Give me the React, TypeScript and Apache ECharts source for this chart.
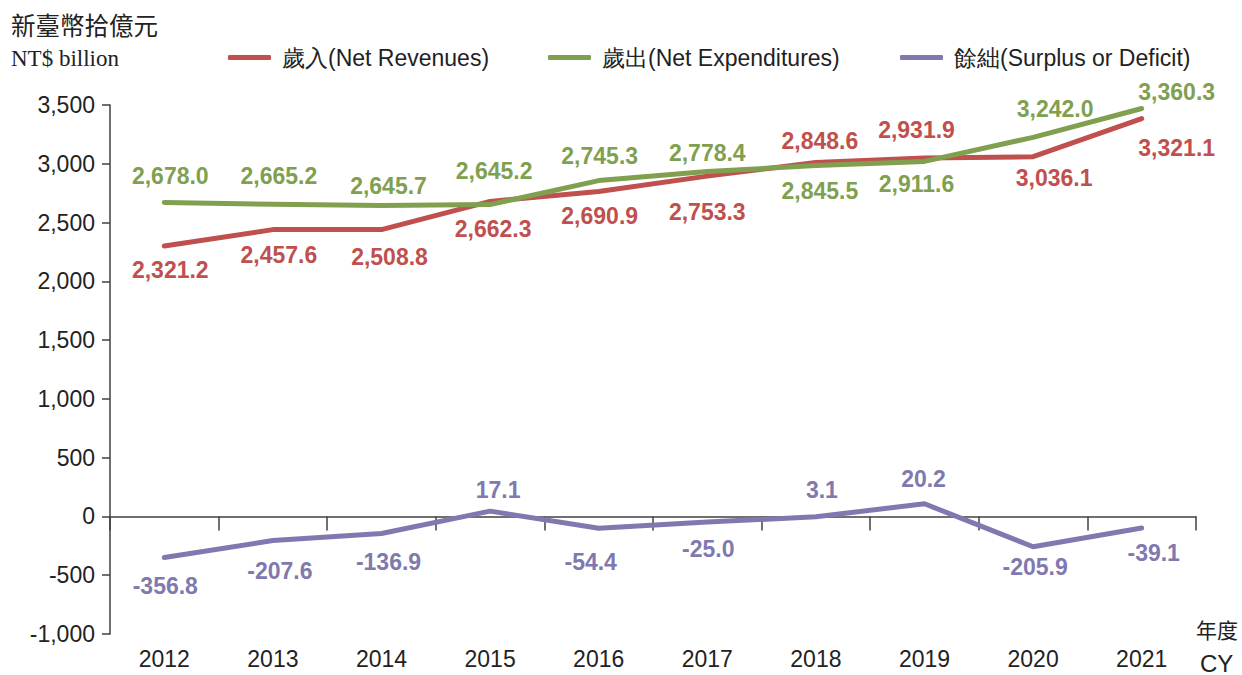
import React, { useEffect, useRef } from "react";
import * as echarts from "echarts";

const years = ["2012", "2013", "2014", "2015", "2016", "2017", "2018", "2019", "2020", "2021"];
const yTicks = { min: -1000, max: 3500, interval: 500 };

// plotted line positions (as drawn in the picture)
const revenueLine = [2300, 2440, 2440, 2680, 2765, 2895, 3010, 3050, 3060, 3385];
const expenditureLine = [2670, 2655, 2645, 2653, 2857, 2934, 2985, 3020, 3225, 3470];
const balanceLine = [-350, -205, -145, 45, -100, -48, -3, 108, -258, -99];

// printed values
const revenueValues = [2321.2, 2457.6, 2508.8, 2662.3, 2690.9, 2753.3, 2848.6, 2931.9, 3036.1, 3321.1];
const expenditureValues = [2678.0, 2665.2, 2645.7, 2645.2, 2745.3, 2778.4, 2845.5, 2911.6, 3242.0, 3360.3];
const balanceValues = [-356.8, -207.6, -136.9, 17.1, -54.4, -25.0, 3.1, 20.2, -205.9, -39.1];

const seriesNames = ["歲入(Net Revenues)", "歲出(Net Expenditures)", "餘絀(Surplus or Deficit)"];
const colors = ["#C0504D", "#80A050", "#8079B0"];

// label placement: [position, distance, dx]
const revPlace: [string, number, number][] = [
  ["bottom", 12, 6], ["bottom", 14, 6], ["bottom", 16, 8], ["bottom", 16, 3], ["bottom", 13, 1],
  ["bottom", 24, 0], ["top", 10, 4], ["top", 16, -8], ["bottom", 10, 21], ["bottom", 18, 35],
];
const expPlace: [string, number, number][] = [
  ["top", 15, 6], ["top", 17, 6], ["top", 8, 7], ["top", 22, 4], ["top", 13, 1],
  ["top", 7, 0], ["bottom", 14, 4], ["bottom", 11, -8], ["top", 17, 22], ["top", 5, 35],
];
const balPlace: [string, number, number][] = [
  ["bottom", 17, 1], ["bottom", 19, 7], ["bottom", 17, 7], ["top", 10, 8], ["bottom", 22, -8],
  ["bottom", 15, 1], ["top", 15, 6], ["top", 13, -1], ["bottom", 9, 2], ["bottom", 13, 12],
];

const fmt = (v: number) =>
  v.toLocaleString("en-US", { minimumFractionDigits: 1, maximumFractionDigits: 1 });

function buildData(line: number[], values: number[], place: [string, number, number][]) {
  return line.map((v, i) => ({
    value: v,
    label: {
      show: true,
      formatter: fmt(values[i]),
      position: place[i][0],
      distance: place[i][1],
      offset: [place[i][2], 0],
    },
  }));
}

export default function App() {
  const ref = useRef<HTMLDivElement>(null);
  useEffect(() => {
    if (!ref.current) return;
    const chart = echarts.init(ref.current, null, { renderer: "svg" });
    const font = "'Liberation Sans', Arial, sans-serif";
    const mkSeries = (i: number, line: number[], values: number[], place: any) => ({
      name: seriesNames[i],
      type: "line",
      xAxisIndex: 0,
      data: buildData(line, values, place),
      symbol: "circle",
      symbolSize: 0.1,
      color: colors[i],
      lineStyle: { color: colors[i], width: 5, cap: "round", join: "round" },
      itemStyle: { color: colors[i] },
      label: {
        color: colors[i],
        fontFamily: font,
        fontWeight: "bold",
        fontSize: 23,
      },
      emphasis: { disabled: true },
      z: 2 + i,
    });
    const legendBase = {
      top: 41,
      icon: "roundRect",
      itemWidth: 43,
      itemHeight: 5,
      textStyle: { fontFamily: font, fontSize: 23, color: "#222", padding: [0, 0, 0, 6] },
    };
    chart.setOption({
      animation: false,
      backgroundColor: "#ffffff",
      grid: { left: 110, right: 46, top: 105, bottom: 41, containLabel: false },
      legend: [
        { ...legendBase, left: 223, data: [seriesNames[0]] },
        { ...legendBase, left: 543, data: [seriesNames[1]] },
        { ...legendBase, left: 895, data: [seriesNames[2]] },
      ],
      xAxis: [
        {
          type: "category",
          data: years,
          boundaryGap: true,
          position: "bottom",
          axisLine: { show: true, onZero: true, lineStyle: { color: "#404040", width: 1.5 } },
          axisTick: { show: true, length: 14, inside: false, lineStyle: { color: "#404040", width: 1.5 } },
          axisLabel: { show: false },
          splitLine: { show: false },
        },
        {
          type: "category",
          data: years,
          boundaryGap: true,
          position: "bottom",
          axisLine: { show: false, onZero: false },
          axisTick: { show: false },
          axisLabel: { show: true, fontFamily: font, fontSize: 23, color: "#222", margin: 13 },
          splitLine: { show: false },
        },
      ],
      yAxis: {
        type: "value",
        min: yTicks.min,
        max: yTicks.max,
        interval: yTicks.interval,
        axisLine: { show: true, lineStyle: { color: "#404040", width: 1.5 } },
        axisTick: { show: true, length: 8, lineStyle: { color: "#404040", width: 1.5 } },
        splitLine: { show: false },
        axisLabel: {
          fontFamily: font,
          fontSize: 23,
          color: "#222",
          margin: 15,
          formatter: (v: number) => v.toLocaleString("en-US"),
        },
      },
      graphic: [
        {
          type: "text",
          left: 11,
          top: 12,
          style: { text: "新臺幣拾億元", fontFamily: "'Noto Sans CJK TC'", fontSize: 24.5, fill: "#222" },
        },
        {
          type: "text",
          left: 11,
          top: 47,
          style: { text: "NT$ billion", fontFamily: "'Liberation Serif', serif", fontSize: 23, fill: "#222" },
        },
        {
          type: "text",
          left: 1196,
          top: 618,
          style: { text: "年度", fontFamily: "'Noto Sans CJK TC'", fontSize: 21, fill: "#222" },
        },
        {
          type: "text",
          left: 1200,
          top: 651,
          style: { text: "CY", fontFamily: font, fontSize: 24, fill: "#222" },
        },
      ],
      series: [
        mkSeries(0, revenueLine, revenueValues, revPlace),
        mkSeries(1, expenditureLine, expenditureValues, expPlace),
        mkSeries(2, balanceLine, balanceValues, balPlace),
      ],
    });
    return () => chart.dispose();
  }, []);
  return (
    <div
      ref={ref}
      style={{ position: "absolute", left: 0, top: 0, width: 1242, height: 675, background: "#fff" }}
    />
  );
}
